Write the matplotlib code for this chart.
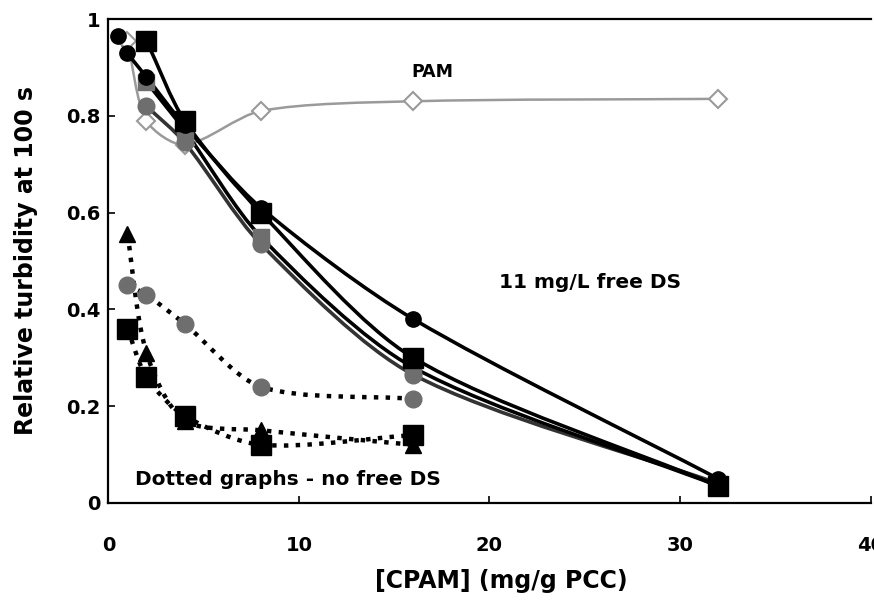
import numpy as np
import matplotlib.pyplot as plt
from matplotlib.path import Path
from matplotlib.patches import PathPatch

plt.rcParams['font.family'] = ['DejaVu Sans']
plt.rcParams['font.weight'] = 'bold'

# com 11 mg/L de DS livre (linhas cheias)
x_bc = [0.5, 1, 2, 4, 8, 16, 32]
y_bc = [0.965, 0.93, 0.88, 0.78, 0.61, 0.38, 0.05]
x_bs = [2, 4, 8, 16, 32]
y_bs = [0.955, 0.79, 0.60, 0.30, 0.035]
x_gc = [2, 4, 8, 16, 32]
y_gc = [0.82, 0.745, 0.535, 0.265, 0.04]
x_gs = [2, 4, 8, 16, 32]
y_gs = [0.87, 0.77, 0.55, 0.28, 0.035]

# PAM
x_pam = [1, 2, 4, 8, 16, 32]
y_pam = [0.955, 0.79, 0.74, 0.81, 0.83, 0.835]

# sem DS livre (pontilhadas)
x_dc = [1, 2, 4, 8, 16]
y_dc = [0.45, 0.43, 0.37, 0.24, 0.215]
x_dt = [1, 2, 4, 8, 16]
y_dt = [0.555, 0.31, 0.17, 0.15, 0.12]
x_ds = [1, 2, 4, 8, 16]
y_ds = [0.36, 0.26, 0.18, 0.12, 0.14]

preto = '#000000'
cinza = '#6e6e6e'
ESC = np.array([762 / 40.0, 484.0])   # px por unidade, so para o alisamento


def curva(ax, x, y, **kw):
    '''linha suavizada (tipo Excel) passando pelos pontos'''
    p = np.column_stack([x, y]).astype(float) * ESC
    n = len(p)
    d = np.hypot(*np.diff(p, axis=0).T)
    tang = []
    for i in range(n):
        if i == 0:
            t = (p[1] - p[0]) / d[0]
        elif i == n - 1:
            t = (p[-1] - p[-2]) / d[-1]
        else:
            t = (p[i + 1] - p[i - 1]) / (d[i - 1] + d[i])
        tang.append(t)
    verts = [p[0]]
    codes = [Path.MOVETO]
    for i in range(n - 1):
        c1 = p[i] + tang[i] * d[i] / 3.5
        c2 = p[i + 1] - tang[i + 1] * d[i] / 3.5
        verts += [c1, c2, p[i + 1]]
        codes += [Path.CURVE4] * 3
    verts = np.array(verts) / ESC
    ax.add_patch(PathPatch(Path(verts, codes), fill=False, zorder=2, **kw))


def serie(ax, x, y, cor_linha, lw, ls, marker, ms, cor_marc, mec=None):
    curva(ax, x, y, edgecolor=cor_linha, lw=lw, linestyle=ls)
    ax.plot(x, y, ls='none', marker=marker, ms=ms, mfc=cor_marc,
            mec=mec if mec else cor_marc, zorder=3)


fig = plt.figure(figsize=(8.74, 6.14), dpi=100)
ax = fig.add_axes([0.124, 0.181, 0.872, 0.788])

curva(ax, x_pam, y_pam, edgecolor='#9a9a9a', lw=1.8, linestyle='-')
ax.plot(x_pam, y_pam, ls='none', marker='D', ms=9, mfc='white',
        mec='#9a9a9a', mew=1.5, zorder=3)

serie(ax, x_gc, y_gc, '#333333', 2.6, '-', 'o', 12, cinza)
serie(ax, x_gs, y_gs, preto, 2.6, '-', 's', 12, cinza)
serie(ax, x_bc, y_bc, preto, 2.6, '-', 'o', 11, preto)
serie(ax, x_bs, y_bs, preto, 2.6, '-', 's', 14, preto)

serie(ax, x_dc, y_dc, preto, 3.2, ':', 'o', 12, cinza)
serie(ax, x_dt, y_dt, preto, 3.2, ':', '^', 12, preto)
serie(ax, x_ds, y_ds, preto, 3.2, ':', 's', 14, preto)

ax.text(17.0, 0.89, 'PAM', fontsize=12.5, fontweight='bold', ha='center', va='center')
ax.text(25.3, 0.455, '11 mg/L free DS', fontsize=14.5, fontweight='bold',
        ha='center', va='center')
ax.text(9.4, 0.048, 'Dotted graphs - no free DS', fontsize=14.5, fontweight='bold',
        ha='center', va='center')

ax.set_xlim(0, 40)
ax.set_ylim(0, 1)
ax.set_xticks([0, 10, 20, 30, 40])
ax.set_yticks([0, 0.2, 0.4, 0.6, 0.8, 1])
ax.set_xticklabels(['0', '10', '20', '30', '40'])
ax.set_yticklabels(['0', '0.2', '0.4', '0.6', '0.8', '1'])
ax.tick_params(direction='in', length=5, width=1.2, labelsize=14)
ax.tick_params(axis='x', pad=24)
ax.tick_params(axis='y', pad=6)
for lab in ax.get_xticklabels() + ax.get_yticklabels():
    lab.set_fontweight('bold')

for s in ['left', 'bottom', 'top']:
    ax.spines[s].set_linewidth(1.6)
ax.spines['right'].set_visible(False)

ax.set_xlabel('[CPAM] (mg/g PCC)', fontsize=17, fontweight='bold', labelpad=10)
ax.xaxis.label.set_x(0.515)
ax.set_ylabel('Relative turbidity at 100 s', fontsize=17, fontweight='bold', labelpad=20)

fig.savefig('out.png', dpi=100)
